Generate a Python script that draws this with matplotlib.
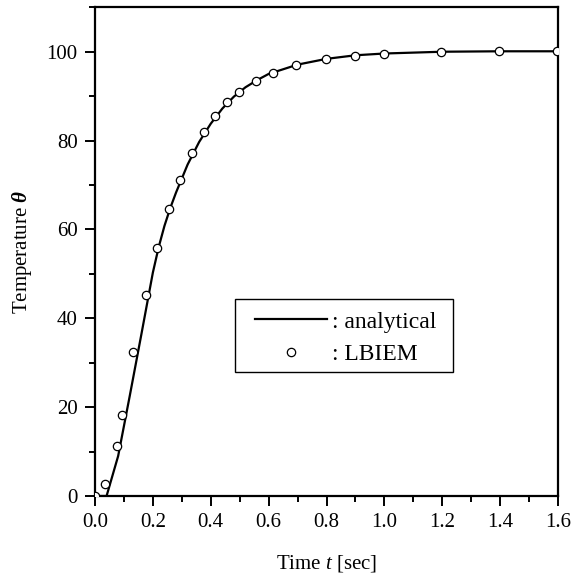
import matplotlib
matplotlib.use("Agg")
import matplotlib.pyplot as plt
from matplotlib.ticker import MultipleLocator
from matplotlib.patches import Rectangle

plt.rcParams['font.family'] = ['Liberation Serif', 'DejaVu Serif']
plt.rcParams['mathtext.fontset'] = 'custom'
plt.rcParams['mathtext.rm'] = 'Liberation Serif'
plt.rcParams['mathtext.it'] = 'Liberation Serif:italic'
plt.rcParams['mathtext.bf'] = 'Liberation Serif:bold:italic'

# analytical solution
t_analytical = [0.0, 0.04, 0.08, 0.12, 0.16, 0.20, 0.22, 0.24, 0.26, 0.28, 0.32, 0.36, 0.40,
                0.44, 0.48, 0.52, 0.56, 0.60, 0.70, 0.80, 0.90, 1.00, 1.20, 1.40, 1.60]
theta_analytical = [0.0, 0.0, 9.0, 22.5, 36.3, 50.3, 56.0, 60.8, 64.8, 68.3, 74.6, 79.7, 83.8,
                    87.2, 89.9, 92.0, 93.6, 95.0, 97.1, 98.4, 99.2, 99.6, 100.0, 100.1, 100.1]

# LBIEM results
t_lbiem = [0.0, 0.035, 0.075, 0.095, 0.133, 0.175, 0.214, 0.255, 0.294, 0.335, 0.375,
           0.416, 0.456, 0.496, 0.556, 0.615, 0.696, 0.797, 0.897, 0.997, 1.197, 1.397, 1.597]
theta_lbiem = [0.0, 2.7, 11.3, 18.2, 32.5, 45.3, 55.8, 64.5, 71.2, 77.2, 82.0,
               85.6, 88.6, 90.9, 93.4, 95.3, 97.0, 98.4, 99.1, 99.5, 100.0, 100.2, 100.2]

x_ticks = [0.0, 0.2, 0.4, 0.6, 0.8, 1.0, 1.2, 1.4, 1.6]
y_ticks = [0, 20, 40, 60, 80, 100]

W, H = 572, 579
L, R, B, T = 95, 558, 496, 7.3
fig = plt.figure(figsize=(W/100, H/100), dpi=100)
ax = fig.add_axes([L/W, 1-B/H, (R-L)/W, (B-T)/H])

def ax_x(px):
    return (px - L) / (R - L)

def ax_y(py):
    return (B - py) / (B - T)

ax.plot(t_analytical, theta_analytical, color='black', lw=1.6, label=': analytical', zorder=2)
ax.plot(t_lbiem, theta_lbiem, linestyle='none', marker='o', ms=6, mfc='white',
        mec='black', mew=0.9, label=': LBIEM', zorder=3)

ax.set_xlim(0, 1.6)
ax.set_ylim(0, 110)
ax.set_xticks(x_ticks)
ax.set_xticklabels([f"{v:.1f}" for v in x_ticks])
ax.set_yticks(y_ticks)
ax.set_yticklabels([str(v) for v in y_ticks])
ax.xaxis.set_minor_locator(MultipleLocator(0.1))
ax.yaxis.set_minor_locator(MultipleLocator(10))
ax.tick_params(which='both', direction='out', top=False, right=False, width=1.4,
               labelsize=15, colors='black')
ax.tick_params(which='major', length=7.5, pad=5)
ax.tick_params(which='minor', length=4.5)
for s in ax.spines.values():
    s.set_linewidth(1.6)

ax.set_xlabel('Time $t$ [sec]', fontsize=15, labelpad=15)
ax.set_ylabel(r'Temperature $\mathbf{\theta}$', fontsize=15, labelpad=9)

# legend frame
ax.add_patch(Rectangle((ax_x(235), ax_y(372)), ax_x(453) - ax_x(235), ax_y(299) - ax_y(372),
                       transform=ax.transAxes, facecolor='white', edgecolor='black',
                       lw=1.0, zorder=4))
leg = ax.legend(loc='upper left', bbox_to_anchor=(ax_x(255), ax_y(311)),
                fontsize=17, frameon=False, handlelength=3.05, handletextpad=0.2,
                borderpad=0, labelspacing=0.47, borderaxespad=0)
leg.set_zorder(5)

fig.savefig('out.png', dpi=100)
